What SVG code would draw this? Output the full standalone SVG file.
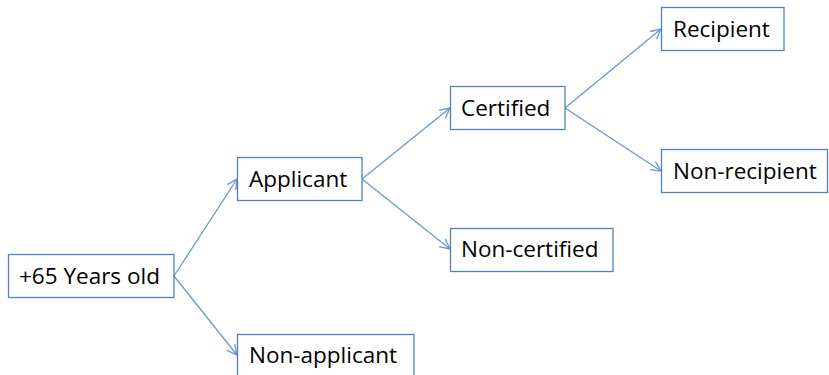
<svg xmlns="http://www.w3.org/2000/svg" width="829" height="375" viewBox="0 0 829 375">
<style>
.box{fill:#fff;stroke:#4f81bd;stroke-width:1.3}
.lbl{font-family:"Open Sans","Liberation Sans",sans-serif;font-size:22.5px;fill:#000}
.con{stroke:#6f97cc;stroke-width:1.3;fill:none;marker-end:url(#ah)}
</style>
<defs>
<marker id="ah" viewBox="0 0 12 12" refX="11" refY="6" markerWidth="12" markerHeight="12" markerUnits="userSpaceOnUse" orient="auto">
<path d="M1,1 L11,6 L1,11" fill="none" stroke="#6f97cc" stroke-width="1.3"/>
</marker>
</defs>
<rect width="829" height="375" fill="#fff"/>
<g id="connectors">
<line class="con" x1="174" y1="276" x2="237" y2="179"/>
<line class="con" x1="174" y1="276" x2="237" y2="355"/>
<line class="con" x1="362" y1="179" x2="450" y2="108"/>
<line class="con" x1="362" y1="179" x2="450" y2="249"/>
<line class="con" x1="565" y1="108" x2="661" y2="29"/>
<line class="con" x1="565" y1="108" x2="661" y2="171"/>
</g>
<g id="n65"><rect class="box" x="8.5" y="254.5" width="165.5" height="43"/><text class="lbl" x="19" y="284">+65 Years old</text></g>
<g id="applicant"><rect class="box" x="237.5" y="157.5" width="124.5" height="43"/><text class="lbl" x="249" y="187">Applicant</text></g>
<g id="nonapplicant"><rect class="box" x="237.5" y="334.5" width="176.5" height="43"/><text class="lbl" x="249" y="363">Non-applicant</text></g>
<g id="certified"><rect class="box" x="450.5" y="86.5" width="114.5" height="43"/><text class="lbl" x="461" y="116">Certified</text></g>
<g id="noncertified"><rect class="box" x="450.5" y="228.5" width="162.5" height="43"/><text class="lbl" x="461" y="257">Non-certified</text></g>
<g id="recipient"><rect class="box" x="661.5" y="7.5" width="122.5" height="43"/><text class="lbl" x="673" y="37">Recipient</text></g>
<g id="nonrecipient"><rect class="box" x="661.5" y="149.5" width="166" height="43"/><text class="lbl" x="673" y="179">Non-recipient</text></g>
</svg>
